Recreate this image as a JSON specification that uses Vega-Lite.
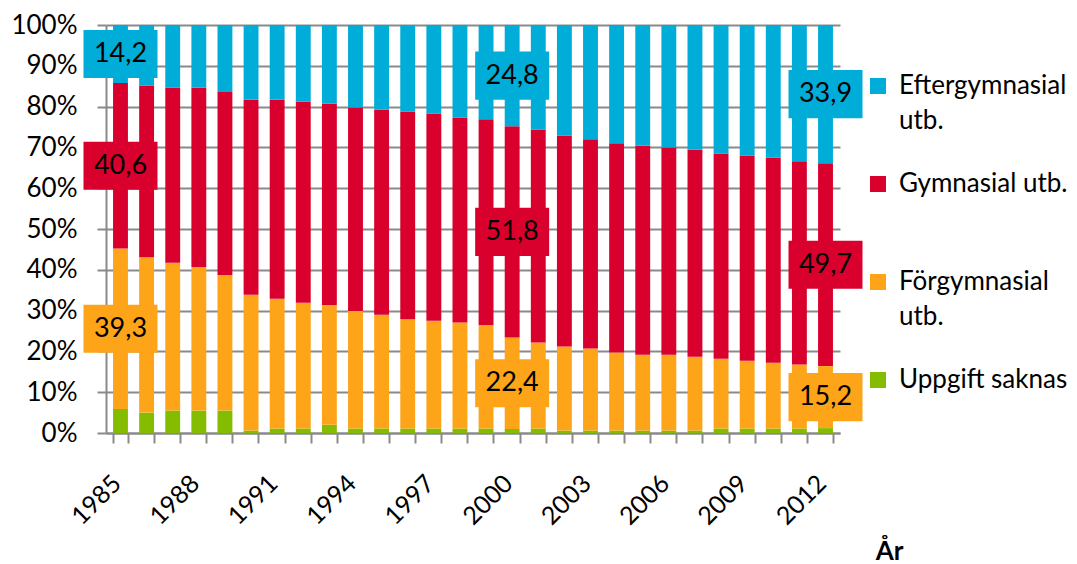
{
  "$schema": "https://vega.github.io/schema/vega-lite/v6.json",
  "autosize": "none",
  "width": 734,
  "height": 408,
  "padding": {"left": 106, "top": 25, "right": 237, "bottom": 131},
  "config": {
    "view": {"stroke": null},
    "font": "Lato",
    "axis": {"labelFont": "Lato", "titleFont": "Lato", "labelColor": "#000000", "titleColor": "#000000"},
    "legend": {"labelFont": "Lato"}
  },
  "data": {
    "values": [
      {"År": 1985, "Uppgift saknas": 5.9, "Förgymnasial": 39.3, "Gymnasial": 40.6, "Eftergymnasial": 14.2},
      {"År": 1986, "Uppgift saknas": 5.0, "Förgymnasial": 38.1, "Gymnasial": 42.0, "Eftergymnasial": 14.9},
      {"År": 1987, "Uppgift saknas": 5.5, "Förgymnasial": 36.2, "Gymnasial": 43.0, "Eftergymnasial": 15.3},
      {"År": 1988, "Uppgift saknas": 5.5, "Förgymnasial": 35.2, "Gymnasial": 44.0, "Eftergymnasial": 15.3},
      {"År": 1989, "Uppgift saknas": 5.5, "Förgymnasial": 33.2, "Gymnasial": 44.9, "Eftergymnasial": 16.4},
      {"År": 1990, "Uppgift saknas": 0.6, "Förgymnasial": 33.3, "Gymnasial": 47.8, "Eftergymnasial": 18.3},
      {"År": 1991, "Uppgift saknas": 1.1, "Förgymnasial": 31.8, "Gymnasial": 48.8, "Eftergymnasial": 18.3},
      {"År": 1992, "Uppgift saknas": 1.1, "Förgymnasial": 30.8, "Gymnasial": 49.3, "Eftergymnasial": 18.8},
      {"År": 1993, "Uppgift saknas": 2.0, "Förgymnasial": 29.4, "Gymnasial": 49.3, "Eftergymnasial": 19.3},
      {"År": 1994, "Uppgift saknas": 1.1, "Förgymnasial": 28.8, "Gymnasial": 49.9, "Eftergymnasial": 20.2},
      {"År": 1995, "Uppgift saknas": 1.1, "Förgymnasial": 27.9, "Gymnasial": 50.2, "Eftergymnasial": 20.8},
      {"År": 1996, "Uppgift saknas": 1.1, "Förgymnasial": 26.8, "Gymnasial": 50.9, "Eftergymnasial": 21.2},
      {"År": 1997, "Uppgift saknas": 1.1, "Förgymnasial": 26.4, "Gymnasial": 50.8, "Eftergymnasial": 21.7},
      {"År": 1998, "Uppgift saknas": 1.1, "Förgymnasial": 26.0, "Gymnasial": 50.2, "Eftergymnasial": 22.7},
      {"År": 1999, "Uppgift saknas": 1.1, "Förgymnasial": 25.4, "Gymnasial": 50.4, "Eftergymnasial": 23.1},
      {"År": 2000, "Uppgift saknas": 1.0, "Förgymnasial": 22.4, "Gymnasial": 51.8, "Eftergymnasial": 24.8},
      {"År": 2001, "Uppgift saknas": 1.1, "Förgymnasial": 21.1, "Gymnasial": 52.2, "Eftergymnasial": 25.6},
      {"År": 2002, "Uppgift saknas": 0.6, "Förgymnasial": 20.6, "Gymnasial": 51.7, "Eftergymnasial": 27.1},
      {"År": 2003, "Uppgift saknas": 0.6, "Förgymnasial": 20.1, "Gymnasial": 51.3, "Eftergymnasial": 28.0},
      {"År": 2004, "Uppgift saknas": 0.6, "Förgymnasial": 19.1, "Gymnasial": 51.3, "Eftergymnasial": 29.0},
      {"År": 2005, "Uppgift saknas": 0.6, "Förgymnasial": 18.6, "Gymnasial": 51.2, "Eftergymnasial": 29.6},
      {"År": 2006, "Uppgift saknas": 0.6, "Förgymnasial": 18.6, "Gymnasial": 50.8, "Eftergymnasial": 30.0},
      {"År": 2007, "Uppgift saknas": 0.6, "Förgymnasial": 18.1, "Gymnasial": 50.7, "Eftergymnasial": 30.6},
      {"År": 2008, "Uppgift saknas": 1.1, "Förgymnasial": 17.1, "Gymnasial": 50.3, "Eftergymnasial": 31.5},
      {"År": 2009, "Uppgift saknas": 1.1, "Förgymnasial": 16.6, "Gymnasial": 50.3, "Eftergymnasial": 32.0},
      {"År": 2010, "Uppgift saknas": 1.1, "Förgymnasial": 16.1, "Gymnasial": 50.3, "Eftergymnasial": 32.5},
      {"År": 2011, "Uppgift saknas": 1.1, "Förgymnasial": 15.7, "Gymnasial": 49.8, "Eftergymnasial": 33.4},
      {"År": 2012, "Uppgift saknas": 1.2, "Förgymnasial": 15.2, "Gymnasial": 49.7, "Eftergymnasial": 33.9}
    ]
  },
  "transform": [
    {"fold": ["Uppgift saknas", "Förgymnasial", "Gymnasial", "Eftergymnasial"], "as": ["kat", "v"]},
    {"calculate": "indexof(['Uppgift saknas', 'Förgymnasial', 'Gymnasial', 'Eftergymnasial'], datum.kat)", "as": "ord"},
    {"stack": "v", "groupby": ["År"], "sort": [{"field": "ord", "order": "ascending"}], "offset": "zero", "as": ["y0", "y1"]},
    {"calculate": "(datum.y0 + datum.y1) / 2", "as": "mid"},
    {"calculate": "replace(format(datum.v, '.1f'), '.', ',')", "as": "txt"}
  ],
  "encoding": {
    "x": {
      "field": "År", "type": "ordinal",
      "scale": {"paddingInner": 0.43, "paddingOuter": 0.27},
      "axis": {
        "title": "År", "titleFontSize": 26, "titleFontWeight": "bold",
        "titleAnchor": "end", "titleAlign": "center", "titleBaseline": "alphabetic", "titleX": 783, "titleY": 126,
        "labelExpr": "(datum.value - 1985) % 3 == 0 ? datum.label : ''",
        "labelAngle": -45, "labelAlign": "right", "labelBaseline": "middle", "labelFontSize": 25, "labelPadding": 36, "labelOffset": -4,
        "tickBand": "extent", "tickSize": 10, "tickColor": "#8a8a8a", "tickWidth": 2,
        "domainColor": "#8a8a8a", "domainWidth": 2, "grid": false
      }
    }
  },
  "layer": [
    {
      "mark": {"type": "bar"},
      "encoding": {
        "y": {
          "field": "y0", "type": "quantitative",
          "scale": {"domain": [0, 100], "nice": false},
          "axis": {
            "title": null, "values": [0, 10, 20, 30, 40, 50, 60, 70, 80, 90, 100],
            "labelExpr": "datum.value + '%'", "labelFontSize": 26, "labelPadding": 20,
            "grid": true, "gridColor": "#8a8a8a", "gridWidth": 2,
            "tickSize": 9, "tickColor": "#8a8a8a", "tickWidth": 2,
            "domainColor": "#8a8a8a", "domainWidth": 2
          }
        },
        "y2": {"field": "y1"},
        "color": {
          "field": "kat", "type": "nominal",
          "scale": {
            "domain": ["Eftergymnasial", "Gymnasial", "Förgymnasial", "Uppgift saknas"],
            "range": ["#00ADD8", "#D9002E", "#FDA419", "#84BD00"]
          },
          "legend": {
            "title": null, "orient": "none", "legendX": 759, "legendY": 48, "padding": 0,
            "symbolType": "square", "symbolSize": 256, "symbolStrokeWidth": 0,
            "labelFontSize": 26, "labelOffset": 8, "rowPadding": 37, "labelLimit": 300,
            "labelExpr": "datum.label == 'Eftergymnasial' ? ['Eftergymnasial', 'utb.'] : datum.label == 'Gymnasial' ? ['Gymnasial utb.', ''] : datum.label == 'Förgymnasial' ? ['Förgymnasial', 'utb.'] : datum.label",
            "encode": {"labels": {"update": {"lineHeight": {"value": 35}}}}
          }
        }
      }
    },
    {
      "transform": [{"filter": "indexof([1985, 2000, 2012], datum['År']) >= 0 && datum.kat != 'Uppgift saknas'"}],
      "mark": {"type": "point", "shape": "M-1,-0.65H1V0.65H-1Z", "size": 5476, "filled": true, "opacity": 1},
      "encoding": {
        "y": {"field": "mid", "type": "quantitative"},
        "color": {"field": "kat", "type": "nominal", "legend": null}
      }
    },
    {
      "transform": [{"filter": "indexof([1985, 2000, 2012], datum['År']) >= 0 && datum.kat != 'Uppgift saknas'"}],
      "mark": {"type": "text", "fontSize": 27, "font": "Lato", "color": "#000000", "align": "center", "baseline": "middle"},
      "encoding": {
        "y": {"field": "mid", "type": "quantitative"},
        "text": {"field": "txt"}
      }
    }
  ]
}
